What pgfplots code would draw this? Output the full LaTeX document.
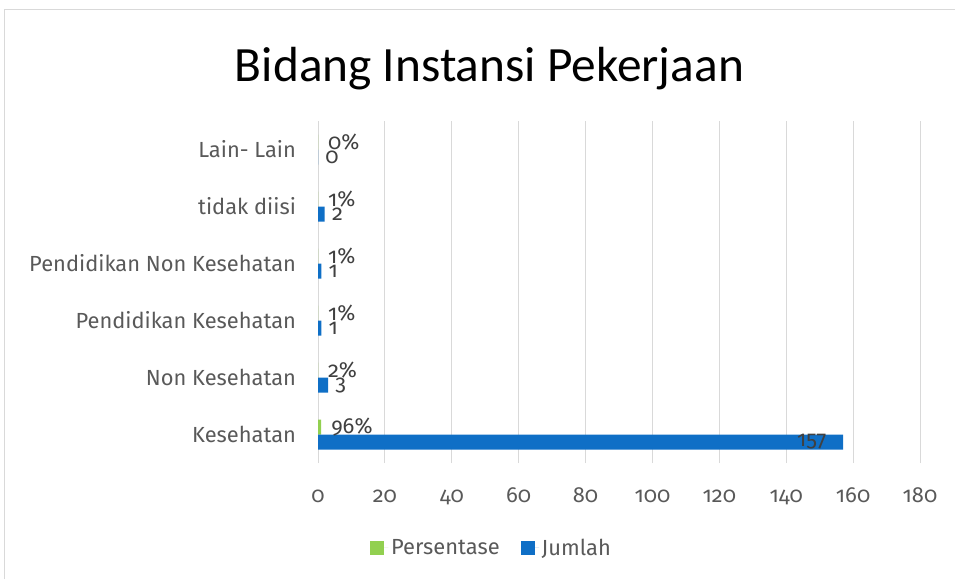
\documentclass[border=0pt]{standalone}
\usepackage{pgfplots}
\pgfplotsset{compat=1.18}
\usepackage{pgfplotstable}
\usepackage{fontspec}
\setmainfont{Fira Sans}[Numbers=OldStyle]
\newfontfamily\titlefont{Carlito}
\definecolor{pgreen}{HTML}{92D050}
\definecolor{jblue}{HTML}{0F6FC6}
\definecolor{txt}{HTML}{595959}
\definecolor{lbl}{HTML}{404040}
\definecolor{gridc}{HTML}{D9D9D9}

\pgfplotstableread{
pos val
0 0.96
1 0.02
2 0.01
3 0.01
4 0.01
5 0
}\persen
\pgfplotstableread{
pos val
0 157
1 3
2 1
3 1
4 2
5 0
}\jumlah

\begin{document}
\begin{tikzpicture}
\useasboundingbox (0pt,0pt) rectangle (716.25pt,434.25pt);
\draw[gridc, line width=0.75pt] (3pt,0pt) -- (3pt,426.75pt) -- (716.25pt,426.75pt);
\node[font=\titlefont\fontsize{37}{42}\selectfont, text=black] at (367.1pt,383pt) {Bidang Instansi Pekerjaan};
\begin{axis}[
  at={(238.5pt,87pt)}, anchor=south west,
  scale only axis, width=451.5pt, height=256.5pt,
  xbar, bar width=11.25pt,
  xmin=0, xmax=180, xtick={0,20,...,180},
  ymin=-0.5, ymax=5.5, ytick={0,1,2,3,4,5},
  yticklabels={Kesehatan, Non Kesehatan, Pendidikan Kesehatan, Pendidikan Non Kesehatan, tidak diisi, Lain- Lain},
  /pgf/number format/assume math mode=true,
  xmajorgrids, grid style={gridc, line width=0.75pt},
  axis line style={draw=none},
  major tick length=0pt,
  tick label style={font=\fontsize{16.4}{19}\selectfont, text=txt},
  yticklabel style={xshift=-13pt},
  xticklabel style={anchor=base, yshift=-29.25pt},
  legend style={at={(axis description cs:0.289,-0.2485)}, anchor=center, draw=none,
    legend columns=2, font=\fontsize{16.4}{19}\selectfont, text=txt,
    /tikz/every even column/.append style={column sep=14pt}},
  legend image code/.code={\fill[#1] (0pt,-5.25pt) rectangle (10.5pt,5.25pt); \path (0pt,0pt) -- (13.5pt,0pt);},
]
\addplot[fill=pgreen, draw=none, bar shift=5.625pt,
  point meta={x*100},
  nodes near coords={\pgfmathprintnumber[fixed,precision=0]{\pgfplotspointmeta}\%},
  every node near coord/.append style={anchor=west, xshift=4pt, font=\fontsize{16.4}{19}\selectfont, text=lbl}]
  table[x=val, y=pos] {\persen};
\addlegendentry{Persentase}
\addplot[fill=jblue, draw=none, bar shift=-5.625pt,
  point meta=x,
  nodes near coords={\ifdim\pgfplotspointmetatransformed pt>900pt \makebox[0pt][r]{\pgfmathprintnumber{\pgfplotspointmeta}\hspace{18pt}}\else\pgfmathprintnumber{\pgfplotspointmeta}\fi},
  every node near coord/.append style={anchor=west, xshift=2pt, font=\fontsize{16.4}{19}\selectfont, text=lbl}]
  table[x=val, y=pos] {\jumlah};
\addlegendentry{Jumlah}
\end{axis}
\end{tikzpicture}
\end{document}
